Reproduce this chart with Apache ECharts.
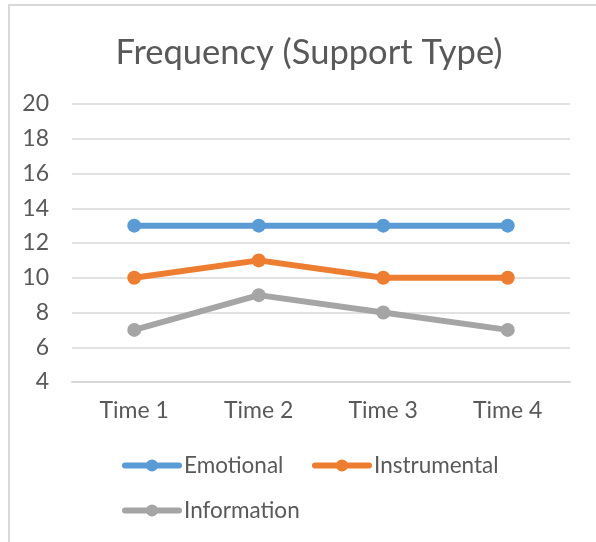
<!DOCTYPE html>
<html>
<head>
<meta charset="utf-8">
<script src="https://cdn.jsdelivr.net/npm/echarts@6/dist/echarts.min.js"></script>
<style>
  html, body { margin: 0; padding: 0; background: #fff; overflow: hidden; }
  #frame {
    position: absolute; left: 8px; top: 4px; width: 600px; height: 560px;
    border-left: 2px solid #d9d9d9; border-top: 2px solid #d9d9d9;
    box-sizing: border-box;
  }
  #chart { position: absolute; left: 0; top: 0; width: 596px; height: 542px; }
</style>
</head>
<body>
<div id="frame"></div>
<div id="chart"></div>
<script>
// Support type frequencies across four measurement times
const categories = ['Time 1', 'Time 2', 'Time 3', 'Time 4'];
const emotional = [13, 13, 13, 13];
const instrumental = [10, 11, 10, 10];
const information = [7, 9, 8, 7];
const seriesNames = ['Emotional', 'Instrumental', 'Information'];
const colors = ['#5B9BD5', '#ED7D31', '#A5A5A5'];
const yMin = 4, yMax = 20, yStep = 2;

const FONT = 'Lato';
const TEXT = '#595959';

function lineSeries(name, data, color) {
  return {
    name: name,
    type: 'line',
    data: data,
    symbol: 'circle',
    symbolSize: 14,
    showSymbol: true,
    lineStyle: { color: color, width: 6, cap: 'round', join: 'round' },
    itemStyle: { color: color },
    emphasis: { disabled: true },
    z: 3
  };
}

function legendItem(name, left, top) {
  return {
    data: [name],
    left: left,
    top: top,
    padding: 0,
    orient: 'horizontal',
    itemWidth: 54,
    itemHeight: 15,
    itemGap: 0,
    selectedMode: false,
    lineStyle: { width: 6, cap: 'round' },
    textStyle: { fontFamily: FONT, fontSize: 22.5, color: TEXT }
  };
}

const chart = echarts.init(document.getElementById('chart'), null, { renderer: 'canvas' });
chart.setOption({
  animation: false,
  backgroundColor: 'transparent',
  title: {
    text: 'Frequency (Support Type)',
    left: 304,
    textAlign: 'center',
    top: 30,
    textStyle: { fontFamily: FONT, fontSize: 34.5, fontWeight: 'normal', color: TEXT }
  },
  legend: [
    legendItem(seriesNames[0], 122, 454),
    legendItem(seriesNames[1], 312, 454),
    legendItem(seriesNames[2], 122, 499)
  ],
  grid: { left: 72, right: 26, top: 104, bottom: 160, containLabel: false },
  xAxis: {
    type: 'category',
    data: categories,
    boundaryGap: true,
    axisLine: { show: true, lineStyle: { color: '#d9d9d9', width: 2 } },
    axisTick: { show: false },
    axisLabel: { fontFamily: FONT, fontSize: 23, color: TEXT, margin: 17 },
    splitLine: { show: false }
  },
  yAxis: {
    type: 'value',
    min: yMin,
    max: yMax,
    interval: yStep,
    axisLine: { show: false },
    axisTick: { show: false },
    axisLabel: { fontFamily: FONT, fontSize: 23, color: TEXT, margin: 23 },
    splitLine: { show: true, lineStyle: { color: '#d9d9d9', width: 1.5 } }
  },
  series: [
    lineSeries(seriesNames[0], emotional, colors[0]),
    lineSeries(seriesNames[1], instrumental, colors[1]),
    lineSeries(seriesNames[2], information, colors[2])
  ]
});
</script>
</body>
</html>
